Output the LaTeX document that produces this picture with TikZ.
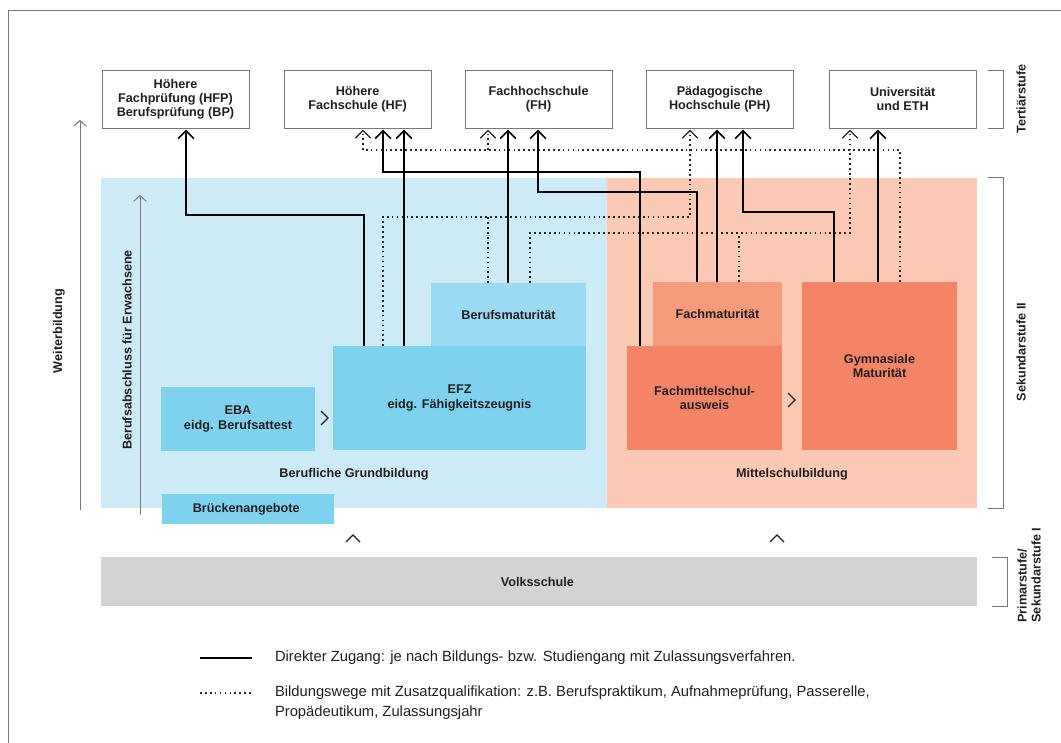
\documentclass[tikz,border=0pt]{standalone}
\usepackage{fontspec}
\setmainfont{Liberation Sans}
\usetikzlibrary{shapes,arrows.meta,positioning}

\definecolor{grundbg}{HTML}{CDEBF6}
\definecolor{grundbox}{HTML}{7FD2EE}
\definecolor{bmbox}{HTML}{9CDAF2}
\definecolor{mittelbg}{HTML}{FCC9B5}
\definecolor{fmbox}{HTML}{F59B7C}
\definecolor{mittelbox}{HTML}{F38466}
\definecolor{volkbg}{HTML}{D1D3D4}
\definecolor{txt}{HTML}{231F20}
\definecolor{framegray}{HTML}{777777}

\begin{document}
\begin{tikzpicture}[x=0.025cm, y=-0.025cm,
        every node/.style={outer sep=0pt, inner sep=0pt, text=txt,
            font=\bfseries\fontsize{9}{10}\selectfont},
        tbox/.style={rectangle, draw=framegray, line width=0.6pt, fill=white,
            align=center, minimum width=3.675cm, minimum height=1.45cm},
        fbox/.style={rectangle, align=center, anchor=north west},
        direct/.style={draw=black, line width=1.4pt,
            -{Straight Barb[length=5.5pt, width=11pt, line width=1.1pt]}, shorten >=1.2pt},
        extra/.style={draw=black!85, line width=1.2pt, dash pattern=on 1.2pt off 2.3pt},
        extratip/.style={extra, -{Straight Barb[length=5.5pt, width=11pt, line width=0.8pt]},
            shorten >=1.2pt},
        side/.style={draw=framegray, line width=0.7pt,
            -{Straight Barb[length=4pt, width=9pt, line width=0.7pt]}},
        bracket/.style={draw=framegray, line width=0.7pt},
        chev/.style={draw=txt, line width=0.9pt}]

        \useasboundingbox (0,0) rectangle (1061,743);

        % outer frame
        \draw[framegray, line width=0.6pt] (8,743) -- (8,10) -- (1061,10);

        %-----Tertiaerstufe-----
        % Hoehere Fachpruefung
        \node [tbox, anchor=north west] (hfp) at (102,70) {%
            Höhere \\ Fachprüfung (HFP) \\ Berufsprüfung (BP)
        };

        % Hoehere Fachschule
        \node [tbox, right=0.875cm of hfp] (hf) {%
            Höhere \\ Fachschule (HF)
        };

        % Fachhochschule
        \node [tbox, right=0.85cm of hf] (fh) {%
            Fachhochschule \\ (FH)
        };

        % Paedagogische Hochschule
        \node [tbox, right=0.85cm of fh] (ph) {%
            Pädagogische \\ Hochschule (PH)
        };

        % Universitaet
        \node [tbox, right=0.9cm of ph] (uni) {%
            Universität \\ und ETH
        };

        %-----Sekundarstufe II-----
        % Hintergruende
        \node [fbox, fill=grundbg, minimum width=12.65cm, minimum height=8.25cm] (grund) at (101,178) {};
        \node [fbox, fill=mittelbg, minimum width=9.25cm, minimum height=8.25cm] (mittel) at (607,178) {};

        % EFZ
        \node [fbox, fill=grundbox, minimum width=6.325cm, minimum height=2.6cm] (efz) at (333,346) {%
            EFZ \\ eidg. Fähigkeitszeugnis
        };

        % Berufsmaturitaet
        \node [rectangle, fill=bmbox, anchor=south east, minimum width=3.875cm,
            minimum height=1.575cm] (bm) at (efz.north east) {%
            Berufsmaturität
        };

        % EBA
        \node [fbox, fill=grundbox, minimum width=3.85cm, minimum height=1.6cm] (eba) at (161,387) {%
            EBA \\ eidg. Berufsattest
        };

        % Brueckenangebote
        \node [fbox, fill=grundbox, minimum width=4.3cm, minimum height=0.75cm] (bruecke) at (162,494) {%
            Brückenangebote
        };

        \node (lblgrund) at (354,474) {Berufliche Grundbildung};

        % Fachmittelschulausweis
        \node [fbox, fill=mittelbox, minimum width=3.875cm, minimum height=2.6cm] (fms) at (627,346) {%
            Fachmittelschul- \\ ausweis
        };

        % Fachmaturitaet
        \node [rectangle, fill=fmbox, anchor=south east, minimum width=3.225cm,
            minimum height=1.6cm] (fm) at (fms.north east) {%
            Fachmaturität
        };

        % Gymnasiale Maturitaet
        \node [fbox, fill=mittelbox, minimum width=3.875cm, minimum height=4.2cm] (gym) at (802,282) {%
            Gymnasiale \\ Maturität
        };

        \node (lblmittel) at (792,474) {Mittelschulbildung};

        % Uebergaenge
        \draw[chev] (321,411) -- (328,418) -- (321,425);
        \draw[chev] (788,393) -- (795,400) -- (788,407);
        \draw[chev] (346,542) -- (353,535) -- (360,542);
        \draw[chev] (770,542) -- (777,535) -- (784,542);

        %-----Volksschule-----
        \node [fbox, fill=volkbg, minimum width=21.9cm, minimum height=1.225cm] (volk) at (101,557) {%
            Volksschule
        };

        %-----Seitenachsen-----
        \draw[side] (80,510) -- (80,120);
        \node [rotate=90] (weiter) at (59,331) {Weiterbildung};
        \draw[side] (140,515) -- (140,195);
        \node [rotate=90] (erwachsene) at (127,350) {Berufsabschluss für Erwachsene};

        % Stufen
        \draw[bracket] (988,70) -- (1003,70) -- (1003,128) -- (988,128);
        \node [rotate=90] (tert) at (1021,99) {Tertiärstufe};
        \draw[bracket] (988,177) -- (1003,177) -- (1003,508) -- (988,508);
        \node [rotate=90] (sek2) at (1021,352) {Sekundarstufe II};
        \draw[bracket] (992,557) -- (1007,557) -- (1007,606) -- (992,606);
        \node [rotate=90, align=left] (sek1) at (1029,575) {Primarstufe/ \\ Sekundarstufe I};

        %-----Zugaenge-----
        % Zusatzqualifikation
        \draw[extra] (gym.north -| 900,0) |- (363,150);
        \draw[extratip] (363,150) -- (hf.south -| 363,0);
        \draw[extratip] (488,150) -- (fh.south -| 488,0);
        \draw[extratip] (efz.north -| 383,0) |- (690,217) -- (ph.south -| 690,0);
        \draw[extra] (bm.north -| 488,0) -- (488,217);
        \draw[extratip] (bm.north -| 530,0) |- (850,233) -- (uni.south -| 850,0);
        \draw[extra] (fm.north -| 739,0) -- (739,233);

        % direkter Zugang
        \draw[direct] (efz.north -| 364,0) |- (186,215) -- (hfp.south -| 186,0);
        \draw[direct] (efz.north -| 404,0) -- (hf.south -| 404,0);
        \draw[direct] (fms.north -| 640,0) |- (383,172) -- (hf.south -| 383,0);
        \draw[direct] (bm.north -| 508,0) -- (fh.south -| 508,0);
        \draw[direct] (fm.north -| 697,0) |- (538,192) -- (fh.south -| 538,0);
        \draw[direct] (fm.north -| 717,0) -- (ph.south -| 717,0);
        \draw[direct] (gym.north -| 834,0) |- (743,212) -- (ph.south -| 743,0);
        \draw[direct] (gym.north -| 878,0) -- (uni.south -| 878,0);

        %-----Legende-----
        \draw[black, line width=1.8pt] (200,658) -- (252,658);
        \node [anchor=west, font=\fontsize{10.5}{14}\selectfont] (legdirect) at (275,658) {%
            Direkter Zugang: je nach Bildungs- bzw. Studiengang mit Zulassungsverfahren.
        };
        \draw[extra] (200,693) -- (252,693);
        \node [anchor=north west, align=left, font=\fontsize{10.5}{14.2}\selectfont] (legextra) at (275,686) {%
            Bildungswege mit Zusatzqualifikation: z.B. Berufspraktikum, Aufnahmeprüfung, Passerelle, \\
            Propädeutikum, Zulassungsjahr
        };

    \end{tikzpicture}
\end{document}
